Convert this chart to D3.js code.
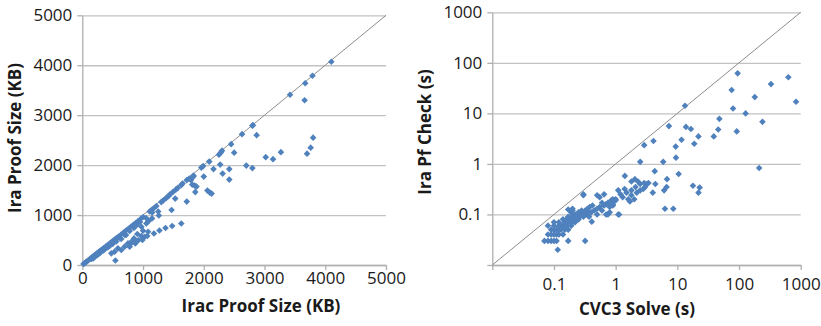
<!DOCTYPE html>
<html>
<head>
<meta charset="utf-8">
<script src="https://cdn.jsdelivr.net/npm/d3@7"></script>
<style>
  body { margin: 0; background: #fff; }
  svg { display: block; }
  .tick text { font-family: 'Open Sans', sans-serif; font-size: 17px; fill: #1a1a1a; }
  .title { font-family: 'Open Sans', sans-serif; font-weight: bold; font-size: 17px; fill: #1a1a1a; }
</style>
</head>
<body>
<svg id="chart" width="821" height="326"></svg>
<script>
// left chart: Irac proof size (x) vs Ira proof size (y), KB
var sizeIrac = [20,40,60,80,100,120,140,160,180,200,220,240,260,280,300,330,360,390,420,450,480,510,540,570,600,640,680,720,760,800,840,880,920,960,1000,1110,1140,1170,1220,1300,1330,1380,1420,1440,1490,1540,1570,1630,1650,1720,1760,1830,1960,1990,2090,2250,2280,2300,2450,2630,2800,2810,3420,3670,3790,4100,
  2870,3660,3800,3760,3700,3270,3020,3140,2700,2800,2500,2270,2420,2160,2310,2420,2000,1830,1790,1810,1850,1880,1860,2060,2100,2130,1720,1530,1470,1250,1260,1630,1480,1370,1270,1180,1070,990,900,800,545,
  1094,1148,1055,973,1000,1083,906,973,1028,851,928,807,873,752,780,697,642,587,532,478,
  300,350,420,500,560,620,700,780,850,900,950,1050,1150,150,200,250,280,180,220,380,460,640,720];
var sizeIra  = [20,38,58,76,96,116,134,152,172,192,210,230,248,268,288,316,344,372,400,430,458,488,515,545,572,610,650,690,725,765,805,840,880,920,960,1070,1100,1130,1180,1260,1290,1340,1380,1410,1460,1510,1540,1600,1630,1700,1730,1790,1950,1980,2070,2210,2250,2290,2420,2620,2790,2800,3410,3640,3790,4070,
  2600,3300,2550,2350,2230,2260,2160,2120,1990,1940,2250,2010,1920,1920,1830,1710,1770,1770,1700,1610,1590,1570,1460,1490,1450,1430,1270,1330,1100,1070,990,830,780,740,690,630,580,500,480,430,90,
  880,933,833,767,687,667,620,580,567,533,500,467,433,433,367,367,300,333,267,233,
  250,290,350,420,470,540,600,680,740,800,860,940,1050,120,160,200,230,130,180,330,390,520,600];

// right chart: CVC3 solve time (x) vs Ira proof check time (y), seconds
var solveCVC3 = [0.07,0.08,0.09,0.1,0.11,0.17,0.32,0.115,
  0.08,0.09,0.1,0.11,0.12,0.14,
  0.09,0.1,0.11,0.12,0.13,0.15,0.17,
  0.08,0.1,0.12,0.13,0.14,0.16,0.19,
  0.1,0.12,0.15,0.17,0.2,0.22,
  0.14,0.16,0.18,0.2,0.22,0.25,
  0.17,0.2,0.23,0.26,0.3,0.37,
  0.2,0.22,0.25,0.28,0.3,0.33,0.5,0.7,0.75,1.1,1.14,
  0.25,0.3,0.35,0.4,0.8,0.19,
  0.2,0.28,0.32,0.45,0.6,0.17,
  0.2,0.35,0.5,
  0.38,0.55,0.8,
  0.42,0.65,0.9,
  0.7,0.9,
  0.6,0.75,
  0.9,1.7,
  1.0,0.85,
  0.9,1.0,1.6,2.0,
  1.3,0.55,
  0.3,0.5,1.8,
  0.65,1.2,0.3,
  1.5,2.2,4.0,22,
  1.1,1.8,2.5,6.1,
  1.4,2.8,
  2.1,3.0,6.7,
  17.9,23,
  2.5,3.2,4.4,
  2.9,3.4,
  1.8,2.3,
  2.05,6.8,
  1.41,10.5,4.3,212,
  2.5,5.9,9.5,9.4,2.9,18.8,4.1,11.7,22,39,92,46,16.6,13.8,7.3,240,48,128,80,13.3,840,180,76,330,630,95,
  6.3,8.6,0.41,0.38];
var checkIra = [0.03,0.03,0.03,0.03,0.03,0.03,0.03,0.02,
  0.04,0.04,0.04,0.04,0.04,0.04,
  0.05,0.05,0.05,0.05,0.05,0.05,0.05,
  0.06,0.06,0.06,0.06,0.06,0.06,0.06,
  0.07,0.07,0.07,0.07,0.07,0.07,
  0.08,0.08,0.08,0.08,0.08,0.08,
  0.09,0.09,0.09,0.09,0.09,0.09,
  0.1,0.1,0.1,0.1,0.1,0.1,0.1,0.1,0.1,0.1,0.1,
  0.11,0.11,0.11,0.11,0.11,0.11,
  0.12,0.12,0.12,0.12,0.12,0.125,
  0.13,0.13,0.13,
  0.14,0.14,0.14,
  0.15,0.15,0.15,
  0.16,0.16,
  0.17,0.17,
  0.18,0.18,
  0.19,0.19,
  0.2,0.2,0.2,0.2,
  0.22,0.22,
  0.24,0.24,0.24,
  0.25,0.25,0.25,
  0.27,0.27,0.27,0.27,
  0.3,0.3,0.3,0.3,
  0.32,0.32,
  0.35,0.35,0.35,
  0.37,0.34,
  0.4,0.4,0.4,
  0.42,0.42,
  0.45,0.45,
  0.5,0.5,
  0.58,0.63,0.72,0.83,
  1.1,1.1,1.33,2.2,2.35,2.5,2.85,3.0,3.5,3.5,4.4,4.8,4.9,5.4,5.6,6.8,7.8,10,12.5,14.2,17,21,29,38,52,62,
  0.13,0.13,0.072,0.105];

var linTicks = [0,1000,2000,3000,4000,5000];
var logTicks = [0.01,0.1,1,10,100,1000];

var svg = d3.select('#chart');
var blue = '#4F81BD';
var diamond = 'M0,-3.3L3.3,0L0,3.3L-3.3,0Z';

function drawPanel(opts) {
  var g = svg.append('g');
  var x = opts.x, y = opts.y;
  var x0 = x.range()[0], x1 = x.range()[1], y0 = y.range()[0], y1 = y.range()[1];

  // horizontal gridlines
  g.append('g').attr('class', 'grid')
    .attr('transform', 'translate(' + x0 + ',0)')
    .call(d3.axisLeft(y).tickValues(opts.ticks).tickSize(-(x1 - x0)).tickFormat(''))
    .call(function(a){ a.select('.domain').remove(); })
    .selectAll('line').attr('stroke', '#c2c2c2').attr('stroke-width', 1.3);

  // y axis
  g.append('g')
    .attr('transform', 'translate(' + x0 + ',0)')
    .call(d3.axisLeft(y).tickValues(opts.ticks).tickSize(5).tickSizeOuter(0).tickPadding(5).tickFormat(opts.fmt))
    .call(function(a){
      a.select('.domain').attr('stroke', '#b0b0b0').attr('stroke-width', 1.3);
      a.selectAll('line').attr('stroke', '#b0b0b0').attr('stroke-width', 1.3);
    });

  // x axis
  g.append('g')
    .attr('transform', 'translate(0,' + y0 + ')')
    .call(d3.axisBottom(x).tickValues(opts.ticks).tickSize(5).tickSizeOuter(0).tickPadding(opts.xpad).tickFormat(opts.fmt))
    .call(function(a){
      a.select('.domain').attr('stroke', '#b0b0b0').attr('stroke-width', 1.3);
      a.selectAll('line').attr('stroke', '#b0b0b0').attr('stroke-width', 1.3);
    });

  // y = x reference line
  var d = x.domain();
  g.append('line')
    .attr('x1', x(d[0])).attr('y1', y(d[0]))
    .attr('x2', x(d[1])).attr('y2', y(d[1]))
    .attr('stroke', '#8c8c8c').attr('stroke-width', 1);

  g.append('g').selectAll('path')
    .data(opts.xs.map(function(v, i){ return [v, opts.ys[i]]; }))
    .enter().append('path')
      .attr('d', diamond)
      .attr('transform', function(p){ return 'translate(' + x(p[0]) + ',' + y(p[1]) + ')'; })
      .attr('fill', blue);

  g.append('text').attr('class', 'title')
    .attr('x', opts.xt[0]).attr('y', opts.xt[1])
    .attr('text-anchor', 'middle')
    .text(opts.xlabel);

  g.append('text').attr('class', 'title')
    .attr('transform', 'translate(' + opts.yt[0] + ',' + opts.yt[1] + ') rotate(-90)')
    .attr('text-anchor', 'middle')
    .text(opts.ylabel);
}

drawPanel({
  x: d3.scaleLinear().domain([0, 5000]).range([82.3, 386]),
  y: d3.scaleLinear().domain([0, 5000]).range([265, 15.3]),
  ticks: linTicks,
  fmt: d3.format('d'),
  xpad: 2,
  xs: sizeIrac, ys: sizeIra,
  xlabel: 'Irac Proof Size (KB)', xt: [261, 312],
  ylabel: 'Ira Proof Size (KB)', yt: [21, 138]
});

drawPanel({
  x: d3.scaleLog().domain([0.01, 1000]).range([492.3, 800.7]),
  y: d3.scaleLog().domain([0.01, 1000]).range([265, 12.3]),
  ticks: logTicks,
  fmt: function(v){ return v === 0.01 ? '' : String(v); },
  xpad: 8,
  xs: solveCVC3, ys: checkIra,
  xlabel: 'CVC3 Solve (s)', xt: [637, 315],
  ylabel: 'Ira Pf Check (s)', yt: [431, 132]
});
</script>
</body>
</html>
